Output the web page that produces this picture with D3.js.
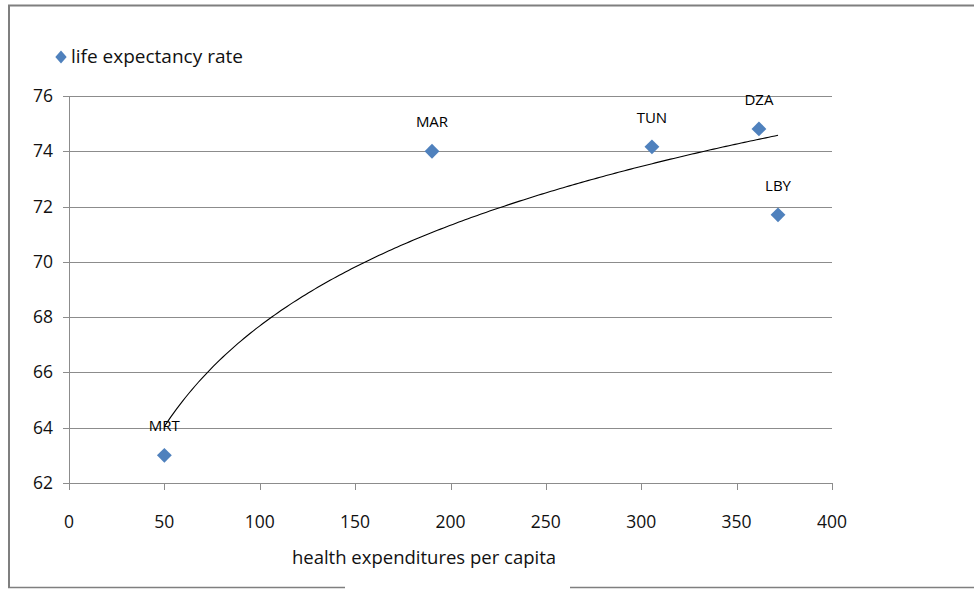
<!DOCTYPE html>
<html><head><meta charset="utf-8">
<script src="https://cdn.jsdelivr.net/npm/d3@7"></script>
<style>body{margin:0;background:#fff}svg{display:block}text{font-family:"Open Sans",Arial,sans-serif}</style>
</head><body><svg id="c" width="974" height="590"></svg>
<script>
const countries = ["MRT","MAR","TUN","DZA","LBY"];
const expenditure = [50, 190.3, 305.6, 361.7, 371.7];
const lifeExpectancy = [63.0, 74.0, 74.16, 74.81, 71.7];
const xTicks = [0,50,100,150,200,250,300,350,400];
const yTicks = [62,64,66,68,70,72,74,76];
const seriesName = "life expectancy rate";
const xTitle = "health expenditures per capita";

const svg = d3.select("#c");
const x = d3.scaleLinear().domain([0,400]).range([69,832]);
const y = d3.scaleLinear().domain([62,76]).range([483,96]);
const grid = "#8c8c8c";

// outer border
svg.append("line").attr("x1",8).attr("x2",974).attr("y1",5.5).attr("y2",5.5).attr("stroke","#7f7f7f").attr("stroke-width",2);
svg.append("line").attr("x1",9).attr("x2",9).attr("y1",5).attr("y2",588).attr("stroke","#7f7f7f").attr("stroke-width",2);
svg.append("line").attr("x1",8).attr("x2",345).attr("y1",587.5).attr("y2",587.5).attr("stroke","#7f7f7f").attr("stroke-width",1.5);
svg.append("line").attr("x1",570).attr("x2",974).attr("y1",587.5).attr("y2",587.5).attr("stroke","#7f7f7f").attr("stroke-width",1.5);

// gridlines
svg.append("g").selectAll("line").data(yTicks).join("line")
  .attr("x1",63).attr("x2",832).attr("y1",d=>Math.round(y(d))+0.5).attr("y2",d=>Math.round(y(d))+0.5)
  .attr("stroke",grid).attr("stroke-width",1);
// y axis line
svg.append("line").attr("x1",69.5).attr("x2",69.5).attr("y1",y(76)).attr("y2",y(62)).attr("stroke",grid);
// x ticks
svg.append("g").selectAll("line").data(xTicks).join("line")
  .attr("x1",d=>Math.round(x(d))+0.5).attr("x2",d=>Math.round(x(d))+0.5).attr("y1",483).attr("y2",490)
  .attr("stroke",grid);

// y labels
svg.append("g").selectAll("text").data(yTicks).join("text")
  .attr("x",53).attr("y",d=>y(d)+6).attr("text-anchor","end").attr("font-size",17.5).attr("fill","#111")
  .text(d=>d);
// x labels
svg.append("g").selectAll("text").data(xTicks).join("text")
  .attr("x",d=>x(d)).attr("y",528).attr("text-anchor","middle").attr("font-size",17.5).attr("fill","#111")
  .text(d=>d);
// x title
svg.append("text").attr("x",424).attr("y",564).attr("text-anchor","middle").attr("font-size",18.5).attr("fill","#111").text(xTitle);

// legend
svg.append("path").attr("d",d3.symbol().type(d3.symbolSquare).size(64)())
  .attr("transform","translate(61,57) scale(1,1.15) rotate(45)").attr("fill","#4f81bd");
svg.append("text").attr("x",71).attr("y",63).attr("font-size",19).attr("fill","#111").text(seriesName);

// logarithmic trendline (least squares y = a + b ln x)
const lx = expenditure.map(Math.log);
const mx = d3.mean(lx), my = d3.mean(lifeExpectancy);
const b = d3.sum(lx.map((v,i)=>(v-mx)*(lifeExpectancy[i]-my))) / d3.sum(lx.map(v=>(v-mx)**2));
const a = my - b*mx;
const xmin = d3.min(expenditure), xmax = d3.max(expenditure);
const tr = d3.range(0,201).map(i=>xmin + (xmax-xmin)*i/200);
svg.append("path").attr("d",d3.line().x(d=>x(d)).y(d=>y(a+b*Math.log(d)))(tr))
  .attr("fill","none").attr("stroke","#000").attr("stroke-width",1.1);

// points
const pts = countries.map((c,i)=>({c, x:expenditure[i], y:lifeExpectancy[i]}));
svg.append("g").selectAll("path").data(pts).join("path")
  .attr("d",d3.symbol().type(d3.symbolSquare).size(110)())
  .attr("transform",d=>`translate(${x(d.x)},${y(d.y)}) rotate(45)`)
  .attr("fill","#4f81bd");
svg.append("g").selectAll("text").data(pts).join("text")
  .attr("x",d=>x(d.x)).attr("y",d=>y(d.y)-24).attr("text-anchor","middle").attr("font-size",15).attr("fill","#000")
  .text(d=>d.c);
</script></body></html>
